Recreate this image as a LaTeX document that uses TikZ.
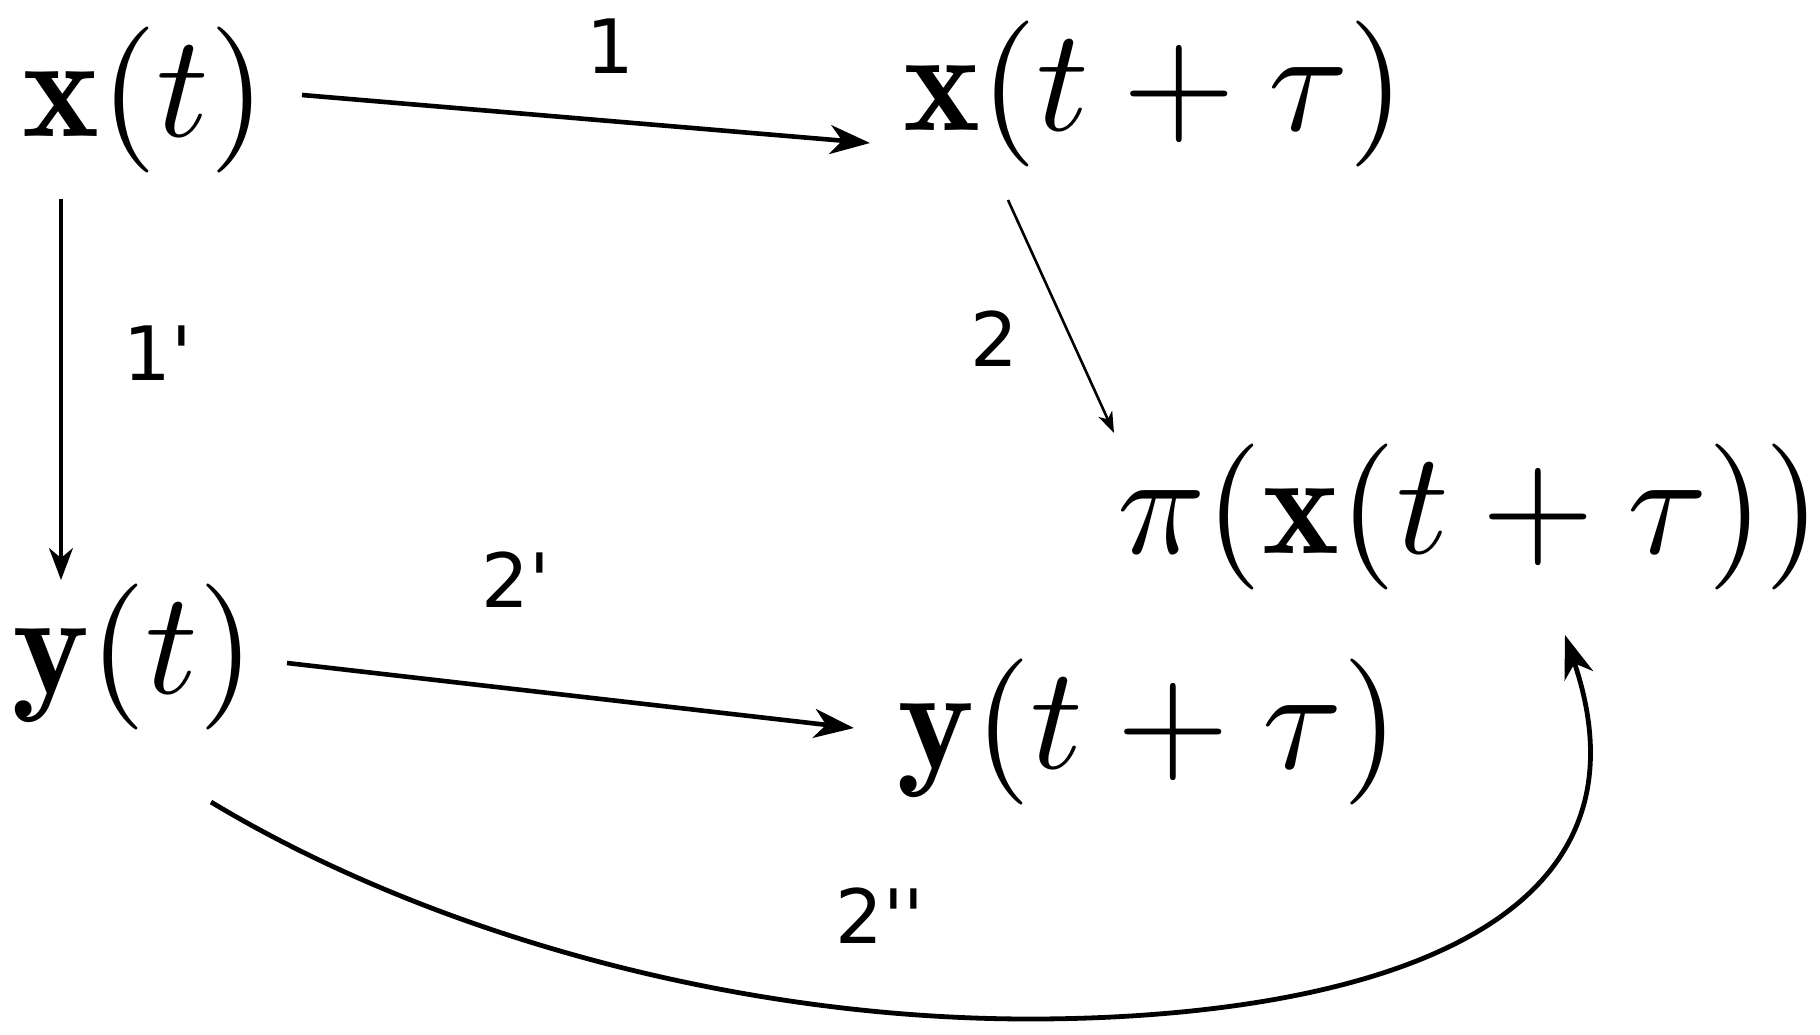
\documentclass[tikz,border=0pt]{standalone}
\usepackage{fontspec}
\newfontfamily\labfont{DejaVu Sans}[Ligatures=TeXOff]
\usetikzlibrary{arrows.meta}
\begin{document}
\begin{tikzpicture}[x=0.5pt,y=-0.5pt,
  mathn/.style={inner sep=0pt, outer sep=0pt, scale=7.3, anchor=base west},
  labn/.style={inner sep=0pt, outer sep=0pt, scale=3.75, font=\labfont, anchor=base},
  bigarr/.style={line width=2.3pt, -{Stealth[length=20pt,width=14.5pt,inset=6pt]}},
  midarr/.style={line width=1.6pt, -{Stealth[length=16pt,width=12pt,inset=5pt]}},
  smallarr/.style={line width=1.3pt, -{Stealth[length=10.5pt,width=7.5pt,inset=3pt]}},
  curvearr/.style={line width=2.4pt, -{Stealth[length=21.5pt,width=15pt,inset=6.5pt]}}]
\useasboundingbox (0,0) rectangle (1820,1034);
% formulas
\node[mathn] (X)  at (23,136)   {$\mathbf{x}(t)$};
\node[mathn] (XT) at (903,130)  {$\mathbf{x}(t+\tau)$};
\node[mathn] (P)  at (1117,553) {$\pi(\mathbf{x}(t+\tau))$};
\node[mathn] (Y)  at (12,693)   {$\mathbf{y}(t)$};
\node[mathn] (YT) at (897,768)  {$\mathbf{y}(t+\tau)$};
% labels
\node[labn] (L1)   at (610,73)  {1};
\node[labn] (L1p)  at (158,380) {1'};
\node[labn] (L2)   at (994,366) {2};
\node[labn] (L2p)  at (516,607) {2'};
\node[labn] (L2pp) at (880,943) {2''};
% connectors
\draw[bigarr]   ([shift={(279,-41)}]X.base west) -- ([shift={(-33,13)}]XT.base west);
\draw[midarr]   ([shift={(38,63)}]X.base west) -- ([shift={(49,-113)}]Y.base west);
\draw[smallarr] ([shift={(105,70)}]XT.base west) -- ([shift={(-3,-120)}]P.base west);
\draw[bigarr]   ([shift={(275,-30)}]Y.base west) -- ([shift={(-43,-40)}]YT.base west);
\coordinate (bot) at (1030,1019);
\draw[curvearr] ([shift={(199,109)}]Y.base west) .. controls (425,931) and (730,1019) .. (bot)
  .. controls (1290,1019) and (1675,960) .. ([shift={(448,82)}]P.base west);
\end{tikzpicture}
\end{document}
